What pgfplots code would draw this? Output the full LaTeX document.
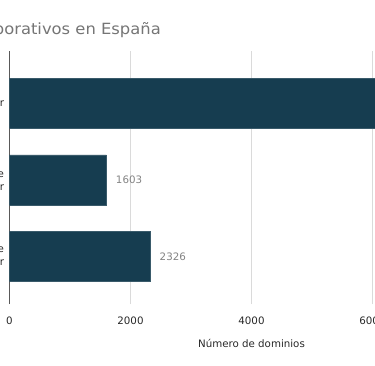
\documentclass[border=0pt]{standalone}
\usepackage{pgfplots}
\pgfplotsset{compat=1.18}
\usepackage{fontspec}
\setmainfont{DejaVu Sans}
\definecolor{barcol}{RGB}{22,61,80}
\definecolor{titlegray}{RGB}{117,117,117}
\definecolor{valgray}{RGB}{130,130,130}
\definecolor{txt}{RGB}{40,40,40}
\definecolor{gridc}{RGB}{218,218,218}
\begin{document}
\begin{tikzpicture}
\useasboundingbox (0,0) rectangle (375bp,366bp);
\clip (0,0) rectangle (375bp,366bp);
\node[anchor=base east, text=titlegray, font=\fontsize{15.5}{18}\selectfont, inner sep=0pt, xscale=1.06] at (161bp,331bp) {Dominios corporativos en España};
\begin{axis}[
  at={(9.5bp,62bp)}, anchor=south west,
  scale only axis, width=484bp, height=253bp,
  xbar, bar width=50bp,
  xmin=0, xmax=8000, ymin=-0.62, ymax=2.68,
  xtick={0,2000,4000,6000,8000},
  ytick={0,1,2},
  yticklabels={{Dominios gestionados de\\forma particular},{Dominios registrados de\\forma exterior},{Dominios del servidor}},
  yticklabel style={align=right, text=txt, font=\fontsize{10.3}{13}\selectfont, xshift=-2bp},
  xticklabel style={text=txt, font=\fontsize{10.3}{12}\selectfont, yshift=-9bp},
  /pgf/number format/assume math mode=true,
  scaled x ticks=false,
  xticklabel={\pgfmathprintnumber[fixed,1000 sep={}]{\tick}},
  xmajorgrids, major grid style={draw=gridc, line width=1.4pt},
  major tick length=0pt,
  x axis line style={draw=none},
  axis y line*=left,
  y axis line style={draw=gray!70!black, line width=0.8pt, -},
  axis x line*=bottom,
  xlabel={Número de dominios},
  xlabel style={text=txt, font=\fontsize{10.3}{12}\selectfont, yshift=-8bp},
  nodes near coords,
  nodes near coords style={text=valgray, font=\fontsize{10.3}{12}\selectfont, anchor=west, xshift=6bp},
  point meta=explicit symbolic,
]
\addplot[fill=barcol, draw=barcol!85!white] coordinates {(2326,0) [2326] (1603,1) [1603] (7200,2) [7200]};
\end{axis}
\end{tikzpicture}
\end{document}
